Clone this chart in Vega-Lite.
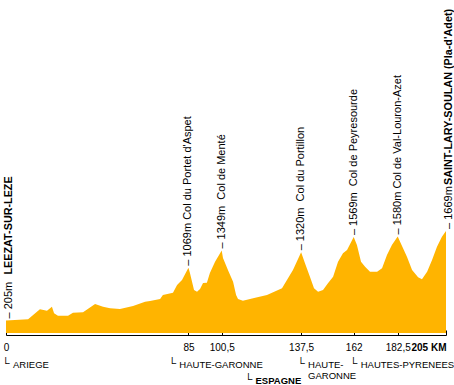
{
  "$schema": "https://vega.github.io/schema/vega-lite/v6.json",
  "width": 440,
  "height": 330,
  "autosize": "none",
  "padding": {"left": 6, "right": 8, "top": 0, "bottom": 55},
  "config": {"view": {"stroke": null}, "font": "Liberation Sans"},
  "datasets": {
    "profile": [
      {"km": 0, "elev": 205}, {"km": 10.3, "elev": 225}, {"km": 15.8, "elev": 388}, {"km": 19.1, "elev": 365},
      {"km": 21.4, "elev": 431}, {"km": 22.4, "elev": 323}, {"km": 24.2, "elev": 284}, {"km": 28.9, "elev": 284},
      {"km": 31.2, "elev": 333}, {"km": 35.9, "elev": 339}, {"km": 41.5, "elev": 475}, {"km": 45.2, "elev": 431},
      {"km": 48.5, "elev": 405}, {"km": 53.1, "elev": 393}, {"km": 59.2, "elev": 442}, {"km": 64.8, "elev": 513},
      {"km": 67.1, "elev": 524}, {"km": 71.8, "elev": 557}, {"km": 73.1, "elev": 622}, {"km": 77.8, "elev": 660},
      {"km": 79.7, "elev": 786}, {"km": 82.0, "elev": 868}, {"km": 85, "elev": 1069}, {"km": 85.7, "elev": 982},
      {"km": 87.6, "elev": 704}, {"km": 89.0, "elev": 676}, {"km": 90.4, "elev": 720}, {"km": 91.8, "elev": 818},
      {"km": 93.6, "elev": 823}, {"km": 95.0, "elev": 982}, {"km": 97.4, "elev": 1167}, {"km": 100.5, "elev": 1349},
      {"km": 101.1, "elev": 1227}, {"km": 103.4, "elev": 1031}, {"km": 105.8, "elev": 840}, {"km": 107.2, "elev": 622},
      {"km": 108.1, "elev": 557}, {"km": 110.4, "elev": 529}, {"km": 115.1, "elev": 568}, {"km": 121.6, "elev": 622},
      {"km": 128.6, "elev": 732}, {"km": 130.9, "elev": 868}, {"km": 133.7, "elev": 1031}, {"km": 137.5, "elev": 1320},
      {"km": 139.3, "elev": 1141}, {"km": 141.6, "elev": 922}, {"km": 143.5, "elev": 732}, {"km": 145.4, "elev": 676},
      {"km": 147.7, "elev": 704}, {"km": 150.0, "elev": 814}, {"km": 152.4, "elev": 922}, {"km": 154.7, "elev": 1167},
      {"km": 157.0, "elev": 1304}, {"km": 158.9, "elev": 1358}, {"km": 162, "elev": 1569}, {"km": 163.5, "elev": 1440},
      {"km": 165.4, "elev": 1167}, {"km": 167.3, "elev": 1085}, {"km": 169.6, "elev": 1003}, {"km": 172.9, "elev": 1003},
      {"km": 175.2, "elev": 1059}, {"km": 177.5, "elev": 1277}, {"km": 179.8, "elev": 1440}, {"km": 182.5, "elev": 1580},
      {"km": 183.6, "elev": 1494}, {"km": 186.8, "elev": 1249}, {"km": 189.2, "elev": 1031}, {"km": 192.0, "elev": 912},
      {"km": 193.8, "elev": 879}, {"km": 196.2, "elev": 1003}, {"km": 198.5, "elev": 1195}, {"km": 200.8, "elev": 1412},
      {"km": 203.1, "elev": 1576}, {"km": 205, "elev": 1669}
    ],
    "peaks": [
      {"km": 0, "elev": 205, "kind": "town", "alt": "– 205m", "name": "LEEZAT-SUR-LEZE"},
      {"km": 85, "elev": 1069, "kind": "col", "alt": "– 1069m Col du Portet d'Aspet", "name": ""},
      {"km": 100.5, "elev": 1349, "kind": "col", "alt": "– 1349m\u00a0 Col de Menté", "name": ""},
      {"km": 137.5, "elev": 1320, "kind": "col", "alt": "– 1320m\u00a0 Col du Portillon", "name": ""},
      {"km": 162, "elev": 1569, "kind": "col", "alt": "– 1569m\u00a0 Col de Peyresourde", "name": ""},
      {"km": 182.5, "elev": 1580, "kind": "col", "alt": "– 1580m Col de Val-Louron-Azet", "name": ""},
      {"km": 205, "elev": 1669, "kind": "town", "alt": "– 1669m", "name": "SAINT-LARY-SOULAN (Pla-d'Adet)"}
    ],
    "regions": [
      {"km": 0, "label": "ARIEGE", "row": 1, "weight": "normal"},
      {"km": 77.5, "label": "HAUTE-GARONNE", "row": 1, "weight": "normal"},
      {"km": 113, "label": "ESPAGNE", "row": 2, "weight": "bold"},
      {"km": 137.5, "label": "HAUTE-\nGARONNE", "row": 1, "weight": "normal"},
      {"km": 162, "label": "HAUTES-PYRENEES", "row": 1, "weight": "normal"}
    ]
  },
  "resolve": {"scale": {"y": "independent"}},
  "layer": [
    {
      "data": {"name": "profile"},
      "mark": {"type": "area", "color": "#ffb400", "interpolate": "linear"},
      "encoding": {
        "x": {
          "field": "km", "type": "quantitative",
          "scale": {"domain": [0, 205], "nice": false, "zero": false},
          "axis": {
            "values": [0, 85, 100.5, 137.5, 162, 182.5, 205],
            "format": ".1~f",
            "labelExpr": "datum.value == 205 ? '205 KM' : replace(datum.label, '.', ',')",
            "labelFontWeight": {"condition": {"test": "datum.value == 205", "value": "bold"}, "value": "normal"},
            "labelAlign": {"condition": {"test": "datum.value == 205", "value": "right"}, "value": "center"},
            "title": null, "grid": false, "offset": 5, "tickSize": -5, "labelPadding": 12,
            "domainColor": "#000000", "tickColor": "#000000", "labelColor": "#000000",
            "labelFont": "Liberation Sans", "labelFontSize": 10, "labelBound": false, "labelOverlap": false,
            "labelFlush": false, "domainWidth": 1, "tickWidth": 1
          }
        },
        "y": {"field": "elev", "type": "quantitative", "scale": {"domain": [49.6, 5448], "nice": false, "zero": false}, "axis": null}
      }
    },
    {
      "data": {"name": "peaks"},
      "transform": [{"filter": "datum.kind == 'col'"}],
      "mark": {"type": "text", "angle": 270, "align": "left", "baseline": "middle", "dx": 2, "fontSize": 11, "font": "Liberation Sans", "color": "#000000"},
      "encoding": {
        "x": {"field": "km", "type": "quantitative"},
        "y": {"field": "elev", "type": "quantitative", "scale": {"domain": [49.6, 5448], "nice": false, "zero": false}, "axis": null},
        "text": {"field": "alt"}
      }
    },
    {
      "data": {"name": "peaks"},
      "transform": [{"filter": "datum.kind == 'town'"}],
      "mark": {"type": "text", "angle": 270, "align": "left", "baseline": "middle", "dx": 2, "dy": 3, "fontSize": 11, "font": "Liberation Sans", "color": "#000000"},
      "encoding": {
        "x": {"field": "km", "type": "quantitative"},
        "y": {"field": "elev", "type": "quantitative", "scale": {"domain": [49.6, 5448], "nice": false, "zero": false}, "axis": null},
        "text": {"field": "alt"}
      }
    },
    {
      "data": {"name": "peaks"},
      "transform": [{"filter": "datum.kind == 'town'"}],
      "mark": {"type": "text", "angle": 270, "align": "left", "baseline": "middle", "dx": 46, "dy": 3, "fontSize": 10.8, "fontWeight": "bold", "font": "Liberation Sans", "color": "#000000"},
      "encoding": {
        "x": {"field": "km", "type": "quantitative"},
        "y": {"field": "elev", "type": "quantitative", "scale": {"domain": [49.6, 5448], "nice": false, "zero": false}, "axis": null},
        "text": {"field": "name"}
      }
    },
    {
      "data": {"name": "regions"},
      "mark": {"type": "text", "align": "center", "baseline": "alphabetic", "dy": -1, "fontSize": 11, "font": "Liberation Sans", "color": "#000000"},
      "encoding": {
        "x": {"field": "km", "type": "quantitative"},
        "y": {"field": "row", "type": "quantitative", "scale": {"domain": [1, 2], "range": [368, 384]}, "axis": null},
        "text": {"value": "└"}
      }
    },
    {
      "data": {"name": "regions"},
      "transform": [{"filter": "datum.weight == 'normal'"}],
      "mark": {"type": "text", "align": "left", "baseline": "alphabetic", "dx": 7, "fontSize": 9.5, "font": "Liberation Sans", "lineBreak": "\n", "lineHeight": 11, "color": "#000000"},
      "encoding": {
        "x": {"field": "km", "type": "quantitative"},
        "y": {"field": "row", "type": "quantitative", "scale": {"domain": [1, 2], "range": [368, 384]}, "axis": null},
        "text": {"field": "label"}
      }
    },
    {
      "data": {"name": "regions"},
      "transform": [{"filter": "datum.weight == 'bold'"}],
      "mark": {"type": "text", "align": "left", "baseline": "alphabetic", "dx": 7, "fontSize": 9.5, "fontWeight": "bold", "font": "Liberation Sans", "color": "#000000"},
      "encoding": {
        "x": {"field": "km", "type": "quantitative"},
        "y": {"field": "row", "type": "quantitative", "scale": {"domain": [1, 2], "range": [368, 384]}, "axis": null},
        "text": {"field": "label"}
      }
    }
  ]
}
